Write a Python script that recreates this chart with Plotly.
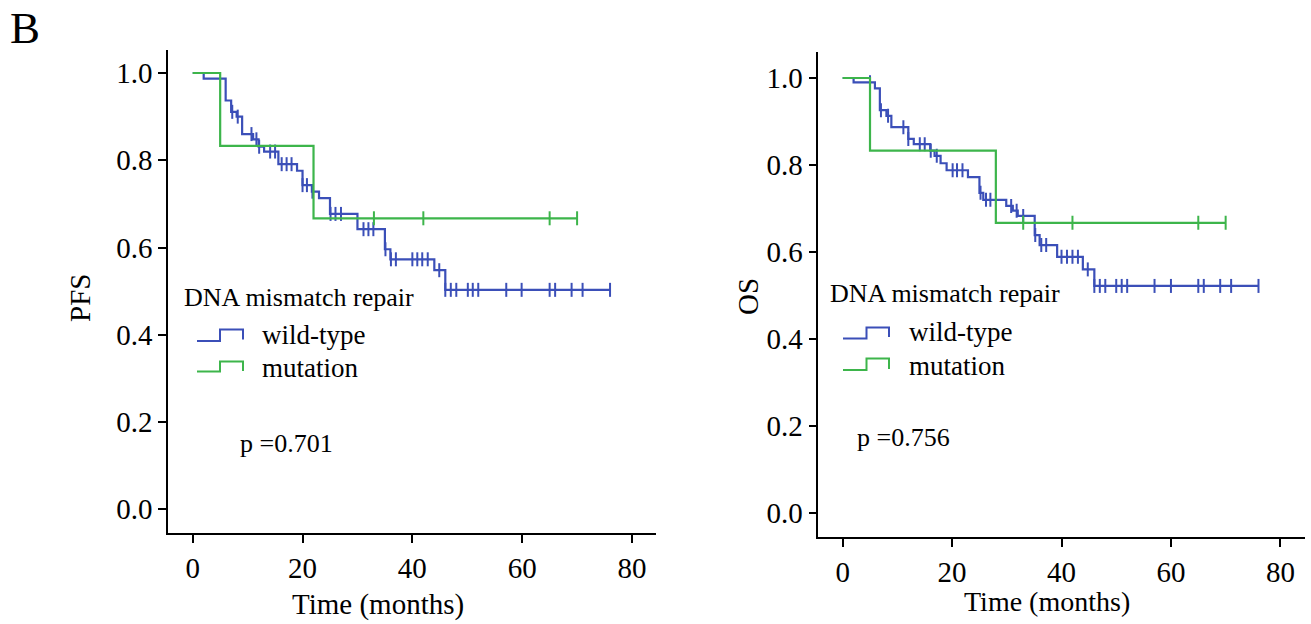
import bisect
import plotly.graph_objects as go

# ---- Kaplan-Meier estimates, DNA mismatch repair status ----
# PFS, wild-type
pfs_wt_event_t = [2, 6, 7, 8, 9, 11, 12, 13, 15.6, 19, 20, 21.7, 23, 25, 30, 35, 36, 44, 46]
pfs_wt_surv = [0.987, 0.937, 0.911, 0.900, 0.860, 0.848, 0.831, 0.820, 0.791, 0.776,
               0.743, 0.728, 0.713, 0.677, 0.642, 0.596, 0.573, 0.548, 0.503]
pfs_wt_censor = [7.2, 8.2, 10.7, 11.6, 12.1, 14.1, 15.0, 16.2, 17.1, 18.0, 20.0, 20.8, 21.8,
                 25.1, 26.0, 27.0, 31.1, 32.0, 32.9, 35.1, 36.1, 37.0, 40.0, 40.9, 41.8, 42.8,
                 44.9, 46.0, 47.0, 48.0, 50.1, 51.0, 52.0, 57.1, 59.9, 65.0, 66.0, 69.0, 71.0, 76.0]
# PFS, mutation
pfs_mut_event_t = [5, 22]
pfs_mut_surv = [0.833, 0.667]
pfs_mut_censor = [33, 42, 65, 70]

# OS, wild-type
os_wt_event_t = [2, 5.9, 6.8, 8, 8.9, 12, 13, 16, 16.8, 17.9, 19, 22.9, 25, 25.7, 29.9,
                 31.1, 32, 35.1, 36, 39.2, 43.9, 46]
os_wt_surv = [0.990, 0.976, 0.926, 0.913, 0.887, 0.860, 0.848, 0.833, 0.821, 0.804, 0.788,
              0.772, 0.736, 0.720, 0.706, 0.695, 0.683, 0.639, 0.616, 0.589, 0.560, 0.522]
os_wt_censor = [5.0, 7.0, 8.3, 11.1, 12.0, 14.1, 15.0, 16.1, 17.2, 20.1, 20.9, 21.9, 25.2,
                26.2, 27.0, 30.8, 31.8, 33.0, 35.2, 36.3, 37.2, 40.0, 41.0, 42.0, 43.0, 44.8,
                46.0, 47.0, 48.0, 50.0, 51.0, 52.0, 57.0, 60.0, 65.0, 66.0, 69.0, 71.0, 76.0]
# OS, mutation
os_mut_event_t = [5, 28]
os_mut_surv = [0.833, 0.667]
os_mut_censor = [33, 42, 65, 70]

group_names = ["wild-type", "mutation"]
p_values = ["0.701", "0.756"]
y_titles = ["PFS", "OS"]
x_ticks = [0, 20, 40, 60, 80]
y_ticks = [0.0, 0.2, 0.4, 0.6, 0.8, 1.0]

BLUE = "#3B4FB8"
GREEN = "#3DB54B"
FONT = "Liberation Serif"
W, H = 1311, 624


def px(x):
    return x / W


def py(y):
    return 1 - y / H


def surv_at(t, ev_t, ev_s):
    i = bisect.bisect_right(ev_t, t)
    return 1.0 if i == 0 else ev_s[i - 1]


def km_traces(ev_t, ev_s, cens, color, xa, ya):
    t_end = max(cens + ev_t)
    xs = [0] + list(ev_t) + [t_end]
    ys = [1.0] + list(ev_s) + [ev_s[-1]]
    line = go.Scatter(x=xs, y=ys, mode="lines", line=dict(color=color, width=2.2, shape="hv"),
                      xaxis=xa, yaxis=ya, showlegend=False, hoverinfo="skip")
    marks = go.Scatter(x=cens, y=[surv_at(c, ev_t, ev_s) for c in cens], mode="markers",
                       marker=dict(symbol="line-ns", size=10, line=dict(color=color, width=2)),
                       xaxis=xa, yaxis=ya, showlegend=False, hoverinfo="skip")
    return [line, marks]


fig = go.Figure()
for tr in (km_traces(pfs_wt_event_t, pfs_wt_surv, pfs_wt_censor, BLUE, "x", "y")
           + km_traces(pfs_mut_event_t, pfs_mut_surv, pfs_mut_censor, GREEN, "x", "y")
           + km_traces(os_wt_event_t, os_wt_surv, os_wt_censor, BLUE, "x2", "y2")
           + km_traces(os_mut_event_t, os_mut_surv, os_mut_censor, GREEN, "x2", "y2")):
    fig.add_trace(tr)

axis_common = dict(showline=True, linecolor="black", linewidth=1.5, showgrid=False,
                   zeroline=False, ticks="outside", ticklen=8, tickwidth=1.5,
                   tickcolor="black", tickfont=dict(family=FONT, size=29, color="black"))

fig.update_layout(
    width=W, height=H, margin=dict(l=0, r=0, t=0, b=0),
    paper_bgcolor="white", plot_bgcolor="white", showlegend=False,
    xaxis=dict(domain=[px(168), px(656)], range=[-4.5, 84.37], anchor="y",
               tickvals=x_ticks, **axis_common),
    yaxis=dict(domain=[py(533), py(50)], range=[-0.0543, 1.0527], anchor="x",
               tickvals=y_ticks, tickformat=".1f", **axis_common),
    xaxis2=dict(domain=[px(818.3), px(1305)], range=[-4.45, 84.5], anchor="y2",
                tickvals=x_ticks, **axis_common),
    yaxis2=dict(domain=[py(537), py(52)], range=[-0.0552, 1.0598], anchor="x2",
                tickvals=y_ticks, tickformat=".1f", **axis_common),
)


def text(x, y, s, size, xanchor="left", angle=0):
    fig.add_annotation(x=px(x), y=py(y), xref="paper", yref="paper", text=s, showarrow=False,
                       xanchor=xanchor, yanchor="middle", textangle=angle,
                       font=dict(family=FONT, size=size, color="black"))


def step_glyph(x0, xm, x1, y_low, y_high, y_end, color):
    path = (f"M {px(x0)},{py(y_low)} L {px(xm)},{py(y_low)} L {px(xm)},{py(y_high)} "
            f"L {px(x1)},{py(y_high)} L {px(x1)},{py(y_end)}")
    fig.add_shape(type="path", path=path, xref="paper", yref="paper",
                  line=dict(color=color, width=2))


# panel letter
text(25, 28, "B", 45, xanchor="center")

# axis titles
text(378, 604, "Time (months)", 29, xanchor="center")
text(1047, 601, "Time (months)", 28, xanchor="center")
text(80, 298, y_titles[0], 29, xanchor="center", angle=-90)
text(748, 297, y_titles[1], 29, xanchor="center", angle=-90)

# legends and p-values
panels = [
    dict(tx=182, ty=297, gx=(197, 220, 243), wt=(341, 329.5, 339.5), mu=(371.5, 361.5, 371),
         lx=260, wty=335, muy=368, p=(238, 443), pv=p_values[0]),
    dict(tx=828, ty=293, gx=(843, 866.5, 889), wt=(338.5, 327.5, 337), mu=(370, 358.5, 369),
         lx=907, wty=332, muy=366, p=(855, 437), pv=p_values[1]),
]
for pn in panels:
    text(pn["tx"], pn["ty"], "DNA mismatch repair", 26)
    step_glyph(*pn["gx"], *pn["wt"], BLUE)
    step_glyph(*pn["gx"], *pn["mu"], GREEN)
    text(pn["lx"], pn["wty"], group_names[0], 27)
    text(pn["lx"], pn["muy"], group_names[1], 27)
    text(pn["p"][0], pn["p"][1], "p =" + pn["pv"], 26)

fig.write_html("out.html")
